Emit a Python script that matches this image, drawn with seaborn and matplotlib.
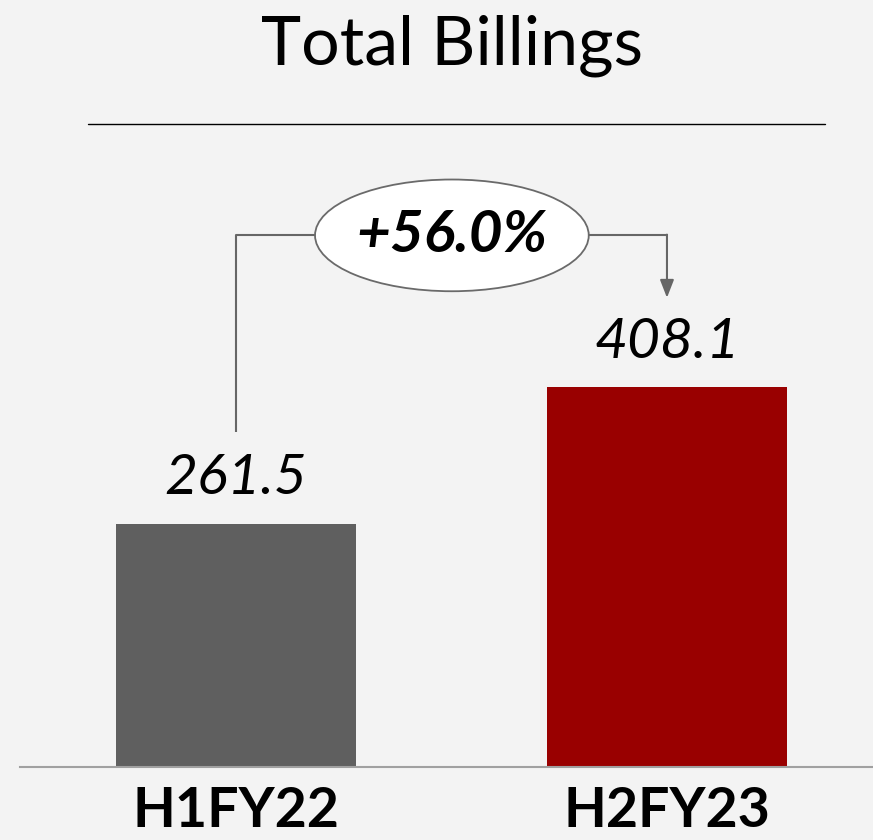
import matplotlib
matplotlib.use("Agg")
import matplotlib.pyplot as plt
import seaborn as sns
import pandas as pd
from matplotlib.patches import Ellipse

categories = ["H1FY22", "H2FY23"]
values = [261.5, 408.1]
value_labels = ["261.5", "408.1"]
change_label = "+56.0%"
title = "Total Billings"

bg = "#f3f3f3"
colors = ["#5f5f5f", "#990000"]

sns.set_theme(style="white")
plt.rcParams["font.family"] = ["Lato", "DejaVu Sans"]

fig = plt.figure(figsize=(8.73, 8.40), dpi=100, facecolor=bg)
W, H = 873, 840
ax = fig.add_axes([20 / W, (H - 767) / H, (873 - 20) / W, (767 - 100) / H])
ax.set_facecolor(bg)

df = pd.DataFrame({"cat": categories, "val": values})
sns.barplot(data=df, x="cat", y="val", hue="cat", palette=colors, width=0.555,
            legend=False, ax=ax, saturation=1, linewidth=0, edgecolor="none")

ax.set_xlim(-0.501, 1.478)
ax.set_ylim(0, 716.4)
ax.set_yticks([])
ax.set_xlabel("")
ax.set_ylabel("")
for s in ["left", "right", "top"]:
    ax.spines[s].set_visible(False)
ax.spines["bottom"].set_color("#a0a0a0")
ax.spines["bottom"].set_linewidth(1.5)
ax.tick_params(axis="x", length=0, pad=14)
for lab in ax.get_xticklabels():
    lab.set_fontsize(40)
    lab.set_fontweight("bold")
    lab.set_color("black")

for i, (v, t) in enumerate(zip(values, value_labels)):
    ax.annotate(t, (i, v), xytext=(0, 14), textcoords="offset points",
                ha="center", va="bottom", fontsize=41, fontstyle="italic",
                color="black")

# connector
line_c = "#666666"
y_top = 571
ax.plot([0, 0], [360, y_top], color=line_c, lw=1.5, solid_capstyle="butt")
ax.plot([0, 1], [y_top, y_top], color=line_c, lw=1.5)
ax.annotate("", xy=(1, 504), xytext=(1, y_top + 0.8),
            arrowprops=dict(arrowstyle="-|>,head_length=0.9,head_width=0.35",
                            color=line_c, lw=1.5, shrinkA=0, shrinkB=0))
ell = Ellipse((0.501, y_top), width=0.635, height=120, facecolor="white",
              edgecolor="#6a6a6a", lw=1.3, zorder=5)
ax.add_patch(ell)
ax.text(0.501, y_top, change_label, ha="center", va="center", fontsize=42,
        fontweight="bold", fontstyle="italic", color="black", zorder=6)

fig.text(452 / W, 1 - 46 / H, title, ha="center", va="center", fontsize=49,
         color="black")
fig.add_artist(plt.Line2D([88 / W, 825 / W], [1 - 124 / H, 1 - 124 / H],
                          color="black", lw=1.0))

fig.savefig("out.png", dpi=100, facecolor=bg)
